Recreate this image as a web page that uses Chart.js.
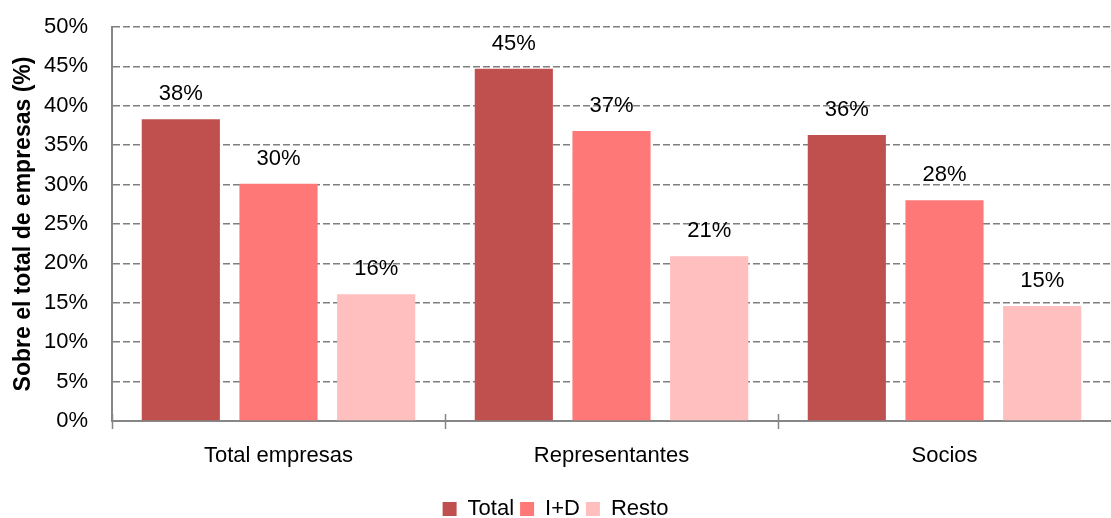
<!DOCTYPE html>
<html><head><meta charset="utf-8">
<script src="https://cdn.jsdelivr.net/npm/chart.js@4"></script>
<style>html,body{margin:0;padding:0;background:#fff}#wrap{width:1111px;height:518px}</style>
</head><body><div id="wrap"><canvas id="c" width="1111" height="518"></canvas></div>
<script>
const categories = ["Total empresas", "Representantes", "Socios"];
const seriesNames = ["Total", "I+D", "Resto"];
const totalValues = [38.3, 44.7, 36.3];
const idValues = [30.1, 36.8, 28.0];
const restoValues = [16.1, 20.9, 14.6];
const yTicks = [0, 5, 10, 15, 20, 25, 30, 35, 40, 45, 50];
const colors = ["#C0504D", "#FF7878", "#FFBFBF"];
const FONT = "'Liberation Sans',Arial,sans-serif";

const labelPlugin = {
  id: 'labels',
  afterDatasetsDraw(chart) {
    const ctx = chart.ctx;
    ctx.save();
    ctx.font = "22px " + FONT;
    ctx.fillStyle = "#000";
    ctx.textAlign = "center";
    ctx.textBaseline = "middle";
    chart.data.datasets.forEach((ds, di) => {
      chart.getDatasetMeta(di).data.forEach((bar, i) => {
        ctx.fillText(Math.round(ds.data[i]) + "%", bar.x, bar.y - 25);
      });
    });
    ctx.restore();
  }
};
const tickPlugin = {
  id: 'catticks',
  afterDraw(chart) {
    const x = chart.scales.x, ctx = chart.ctx;
    const bottom = chart.chartArea.bottom;
    const w = x.getPixelForValue(1) - x.getPixelForValue(0);
    ctx.save();
    ctx.strokeStyle = "#868686";
    ctx.lineWidth = 1.5;
    for (let i = 0; i < categories.length; i++) {
      const px = Math.round(x.getPixelForValue(i) - w / 2) + 0.5;
      ctx.beginPath(); ctx.moveTo(px, bottom - 7); ctx.lineTo(px, bottom + 8); ctx.stroke();
    }
    ctx.restore();
  }
};

new Chart(document.getElementById('c'), {
  type: 'bar',
  data: {
    labels: categories,
    datasets: [
      { label: seriesNames[0], data: totalValues, backgroundColor: colors[0] },
      { label: seriesNames[1], data: idValues, backgroundColor: colors[1] },
      { label: seriesNames[2], data: restoValues, backgroundColor: colors[2] }
    ]
  },
  options: {
    responsive: false,
    animation: false,
    devicePixelRatio: 1,
    layout: { padding: { top: 27, right: 0, left: 0, bottom: -12 } },
    datasets: { bar: { categoryPercentage: 0.88, barPercentage: 0.8 } },
    plugins: {
      tooltip: { enabled: false },
      legend: {
        position: 'bottom',
        labels: {
          font: { family: FONT, size: 22 },
          color: "#000",
          boxWidth: 14, boxHeight: 14, padding: 6
        }
      }
    },
    scales: {
      x: {
        grid: { display: false },
        border: { color: "#868686", width: 2 },
        ticks: { font: { family: FONT, size: 22 }, color: "#000", padding: 14 },
        afterFit(s) { s.height = 71; }
      },
      y: {
        min: 0, max: 50,
        afterBuildTicks(s) { s.ticks = yTicks.map(v => ({ value: v })); },
        grid: {
          color: (c) => c.tick && c.tick.value === 0 ? "rgba(0,0,0,0)" : "#7f7f7f",
          lineWidth: 1.5,
          drawTicks: true,
          tickLength: 24,
          tickColor: "rgba(0,0,0,0)"
        },
        border: { color: "#868686", width: 2, dash: [7, 3] },
        ticks: {
          font: { family: FONT, size: 22 }, color: "#000", padding: 0,
          callback: (v) => v + "%"
        },
        title: {
          display: true, text: "Sobre el total de empresas (%)",
          font: { family: FONT, size: 23, weight: 'bold' },
          color: "#000", padding: { top: 10, bottom: 0 }
        },
        afterFit(s) { s.width = 112; }
      }
    }
  },
  plugins: [labelPlugin, tickPlugin]
});
</script>
</body></html>
